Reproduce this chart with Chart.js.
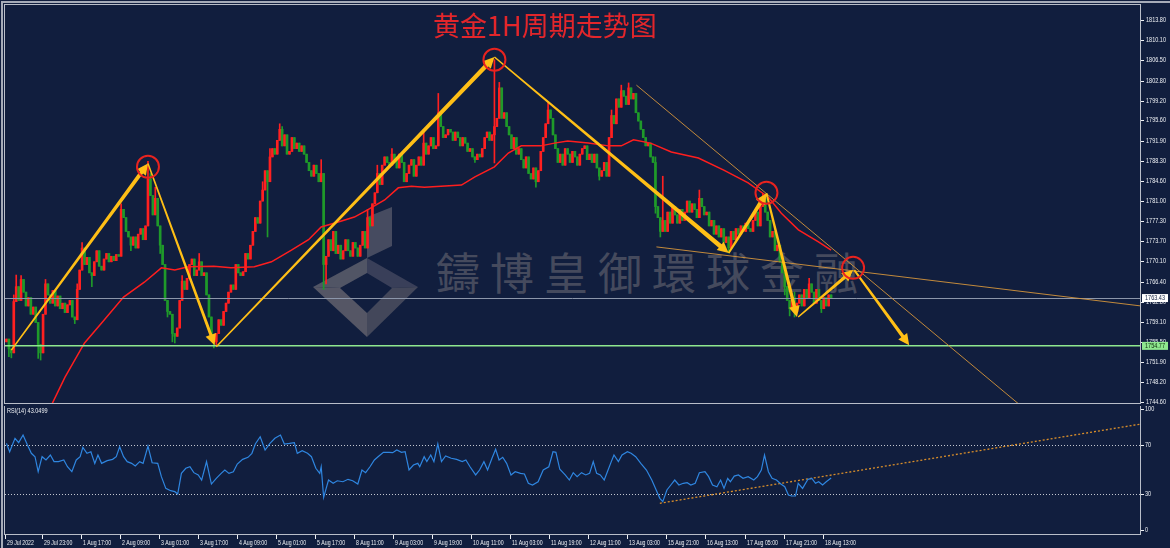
<!DOCTYPE html>
<html>
<head>
<meta charset="utf-8">
<title>黄金1H周期走势图</title>
<script src="https://cdn.jsdelivr.net/npm/chart.js@4.4.1/dist/chart.umd.min.js"></script>
<style>
    html, body { margin: 0; padding: 0; background: #111e3e; }
    #wrap { position: relative; width: 1170px; height: 548px; overflow: hidden; background: #111e3e; }
    #frame { position: absolute; left: 1px; top: 1px; width: 1169px; height: 547px; box-sizing: border-box;
             border-top: 2px solid #a6abb8; border-left: 2px solid #a6abb8; }
    #title { position: absolute; left: 433px; top: 11px; font: 27px "Noto Sans CJK SC"; line-height: 27px;
             color: #e3262b; white-space: nowrap; }
    #mark { position: absolute; left: 436px; top: 249px; font: 44px "Noto Sans CJK TC"; line-height: 44px;
            letter-spacing: 10px; color: #454a5d; white-space: nowrap; }
    #logo { position: absolute; left: 0; top: 0; opacity: 0.8; }
    canvas { position: absolute; left: 0; }
    #priceChart { top: 0; }
    #rsiChart { top: 406px; }
</style>
</head>
<body>
<div id="wrap">
    <svg id="logo" width="1170" height="548">
        <polygon points="367,217 392,207 392,246 367,258" fill="#545769"/>
        <polygon points="313,287 367,258 367,273 340,288" fill="#62636f"/>
        <polygon points="367,258 418,287 392,288 367,273" fill="#444860"/>
        <polygon points="418,287 367,337 367,313 392,288" fill="#505262"/>
        <polygon points="367,337 313,287 340,288 367,313" fill="#66656f"/>
    </svg>
    <div id="mark">鑄博皇御環球金融</div>
    <canvas id="priceChart" width="1170" height="406"></canvas>
    <canvas id="rsiChart" width="1170" height="142"></canvas>
    <div id="title">黄金1H周期走势图</div>
    <div id="frame"></div>
</div>

<script>
    // XAUUSD H1, bar 0 = 29 Jul 2022 07:00, one candle per hour
    const firstOpen = 1755.5;
    const closes = [
        1756.0, 1754.2, 1753.5, 1762.8, 1765.5, 1763.0, 1766.8, 1764.5, 1762.0, 1763.5,
        1760.5, 1761.8, 1759.0, 1755.0, 1753.5, 1760.5, 1766.0, 1764.0, 1762.5, 1764.8,
        1762.0, 1763.8, 1761.5, 1762.5, 1760.8, 1762.2, 1763.0, 1760.0, 1759.5, 1765.0,
        1768.5, 1772.5, 1769.5, 1770.8, 1768.0, 1767.5, 1770.0, 1772.0, 1769.2, 1768.5,
        1770.5, 1771.5, 1770.0, 1771.0, 1770.2, 1771.3, 1771.0, 1779.5, 1778.0, 1775.5,
        1774.5, 1773.0, 1774.5, 1772.5, 1775.0, 1776.0, 1774.0, 1776.5, 1785.0, 1782.0,
        1778.5, 1781.5, 1776.5, 1773.0, 1769.5, 1763.0, 1761.0, 1760.5, 1757.0, 1756.5,
        1758.0, 1763.0, 1766.5, 1765.0, 1767.0, 1769.5, 1770.5, 1767.5, 1768.5, 1770.0,
        1767.5, 1768.0, 1764.0, 1760.0, 1756.5, 1755.5, 1757.0, 1759.5, 1758.5, 1761.0,
        1762.5, 1764.5, 1765.8, 1765.0, 1769.5, 1768.0, 1767.5, 1768.2, 1771.5, 1770.5,
        1773.0, 1775.5, 1778.0, 1777.0, 1781.0, 1783.0, 1786.5, 1784.5, 1789.0, 1790.5,
        1789.5, 1792.0, 1794.0, 1791.0, 1793.0, 1789.5, 1790.0, 1792.5, 1790.5, 1791.5,
        1790.0, 1791.0, 1789.5, 1788.0, 1786.5, 1785.5, 1787.5, 1786.0, 1784.5, 1786.0,
        1769.5, 1771.0, 1774.0, 1772.0, 1775.5, 1771.5, 1773.0, 1770.5, 1772.0, 1774.0,
        1772.0, 1771.0, 1773.5, 1772.5, 1771.0, 1773.0, 1775.5, 1772.5, 1778.0, 1776.5,
        1780.5, 1782.5, 1786.0, 1784.0, 1787.5, 1789.0, 1788.0, 1787.5, 1789.5, 1788.5,
        1787.0, 1789.5, 1788.0, 1784.5, 1786.0, 1787.5, 1788.5, 1785.5, 1787.5, 1789.0,
        1787.5, 1791.5, 1789.5, 1791.0, 1792.5, 1790.5, 1791.0, 1797.0, 1794.5, 1792.5,
        1793.0, 1794.0, 1793.5, 1792.0, 1793.5, 1792.5, 1791.0, 1792.5, 1791.5, 1790.0,
        1790.5, 1789.0, 1788.5, 1789.5, 1789.0, 1790.5, 1792.5, 1793.5, 1792.0, 1793.0,
        1794.5, 1796.0, 1801.5, 1796.0, 1797.0, 1794.5, 1793.0, 1790.5, 1792.5, 1789.5,
        1790.5, 1788.5, 1787.0, 1789.0, 1786.0, 1785.0, 1787.0, 1784.5, 1786.5, 1790.0,
        1792.5, 1795.0, 1797.5, 1796.0, 1793.0, 1790.5, 1788.0, 1789.5, 1787.5, 1790.5,
        1789.5, 1788.0, 1790.0, 1789.0, 1787.5, 1789.5, 1790.5, 1791.0, 1788.5, 1789.5,
        1788.0, 1789.5, 1787.0, 1785.5, 1786.5, 1788.0, 1785.5, 1792.5, 1796.5, 1795.0,
        1799.5, 1798.0, 1801.0, 1800.0, 1798.5, 1801.5, 1799.5, 1800.5, 1797.0, 1795.5,
        1794.0, 1792.5, 1791.0, 1791.5, 1789.0, 1788.0, 1780.0, 1778.0, 1775.5, 1777.5,
        1775.5, 1779.0, 1777.0, 1780.0, 1778.5, 1777.0, 1779.5, 1777.5, 1779.0, 1781.0,
        1779.0, 1780.5, 1779.5, 1778.0, 1781.5, 1780.0, 1778.5, 1779.0, 1776.5, 1777.5,
        1775.0, 1776.5, 1774.5, 1776.0, 1773.5, 1774.5, 1772.5, 1775.5, 1774.0, 1776.0,
        1775.0, 1776.5, 1775.5, 1777.0, 1776.0, 1775.5, 1777.5, 1779.0, 1776.5, 1780.0,
        1781.5, 1779.0, 1777.5, 1774.5, 1775.5, 1772.0, 1773.0, 1770.0, 1768.0, 1765.5,
        1763.0, 1761.5, 1763.5, 1761.0, 1762.5, 1764.0, 1762.0, 1765.0, 1763.5, 1766.0,
        1764.5, 1762.5, 1765.0, 1763.0, 1761.5, 1763.5, 1762.0, 1764.0, 1763.43
    ];
    // visible wick ends (bar index -> price)
    const wickHigh = {
        3: 1764, 4: 1767.6, 6: 1767.5, 16: 1766.8, 29: 1766, 31: 1773.5, 47: 1780.5, 58: 1788.2,
        59: 1786, 61: 1783.5, 72: 1767.5, 79: 1771.5, 105: 1784.5, 108: 1790.5, 112: 1795,
        113: 1794.5, 129: 1788.5, 148: 1779.5, 152: 1787.5, 158: 1790.5, 171: 1794, 177: 1800.5,
        200: 1806.6, 202: 1802.5, 222: 1798.8, 248: 1797.5, 252: 1802, 255: 1802.4, 266: 1789,
        269: 1785.5, 284: 1783, 310: 1782.4, 311: 1782, 323: 1764.5, 329: 1767
    };
    const wickLow = {
        1: 1752.8, 2: 1752.6, 13: 1752.5, 14: 1752.2, 28: 1758.8, 35: 1765.5, 51: 1772, 63: 1771.5,
        66: 1760, 68: 1755.5, 69: 1755.3, 85: 1754.4, 86: 1755, 107: 1774.5, 130: 1765, 131: 1766,
        192: 1788, 200: 1787.9, 217: 1783.5, 243: 1784.8, 266: 1778.8, 268: 1774.5, 296: 1771.6,
        319: 1764, 321: 1760.2, 323: 1760, 334: 1760.8
    };

    // red moving average
    const maIdx = [14, 24, 32, 39, 48, 56.5, 63.5, 69, 74.5, 85, 92, 101.6, 108.6, 116.8, 123.8, 129, 136,
        142.6, 148, 155, 160.6, 166, 171.3, 186.5, 192, 200, 205.7, 211, 219, 224.6, 230, 238.5, 246.7,
        252, 257, 264, 272.5, 283.6, 294, 304, 312.3, 317.6, 324.6, 332.8, 338];
    const maVal = [1740.0, 1749.1, 1755.3, 1758.9, 1763.6, 1766.3, 1768.9, 1768.5, 1769.1, 1769.2, 1768.9,
        1769.1, 1770.0, 1772.1, 1774.0, 1776.3, 1777.2, 1778.1, 1779.4, 1781.2, 1783.4, 1783.7, 1783.5,
        1783.9, 1785.4, 1787.2, 1789.7, 1791.0, 1791.0, 1791.5, 1791.9, 1791.5, 1791.0, 1791.0, 1792.1,
        1791.5, 1789.9, 1788.8, 1786.6, 1784.3, 1781.7, 1778.8, 1775.8, 1773.6, 1772.1];

    // RSI(14)
    const rsiIdx = [0, 1.3, 3.5, 5, 6.8, 8.6, 10.2, 11.7, 13, 14.6, 16.2, 18, 19.5, 21.3, 23.5, 25, 26.8,
        28.6, 30.2, 31.3, 33, 34.6, 36.2, 37.5, 39, 41.3, 43.5, 45, 46.4, 48, 49.5, 51.3, 52.8, 54.6, 56,
        58, 59.7, 62, 63.5, 65.3, 67.3, 69, 70.2, 71.7, 73.5, 75.2, 76.8, 78.6, 80, 82, 84, 86, 88, 89.5,
        91.2, 93, 94.6, 96.8, 99, 100.6, 102, 104, 106, 108, 110, 112.3, 113.9, 116, 118, 119.2, 121.2,
        123.4, 125, 126.8, 128.4, 129, 130, 132, 133.9, 135.6, 137.9, 140, 141.9, 144, 145.7, 147.2, 149,
        150.8, 152.3, 154.5, 156.8, 158.3, 160, 161.9, 163.4, 165, 166.8, 168.6, 169.4, 171.2, 172.3,
        173.9, 175.2, 176.8, 178.3, 180, 182.3, 184.5, 186.8, 188.3, 190, 192.3, 193.9, 195.7, 197.2,
        199, 200.5, 201.9, 203.4, 205, 206.8, 208.5, 210.7, 212.3, 213.9, 215.6, 217.9, 220, 222.3, 224,
        225.2, 226.8, 229, 230.7, 232.3, 233.9, 235.7, 237.4, 239, 240.5, 241.9, 243.4, 245, 246.3, 247.9,
        249, 250.8, 252.3, 254.5, 256, 257.9, 260, 262.3, 264.5, 266.3, 267.8, 269, 270.7, 272.3, 273.9,
        275.6, 277.4, 279, 280.5, 282.3, 284, 286.3, 287.8, 289.4, 291.2, 292.7, 294.1, 295.6, 296.7,
        298.3, 300, 301.9, 304, 306.3, 307.8, 309.4, 310.7, 312.3, 313.8, 315.6, 317.4, 319, 320.5,
        321.8, 323.4, 324.5, 326.3, 328.5, 330.1, 331.6, 332.9, 334.5, 336, 338];
    const rsiVal = [71.6, 64.7, 75.8, 72.2, 78.5, 70.2, 63.4, 60.6, 48.2, 60.6, 57.9, 62, 56.5, 56.5, 57.9,
        52.3, 48.2, 57.9, 60.6, 68.3, 63.4, 64.7, 55.1, 62, 55.1, 57.3, 58.4, 60.6, 68.8, 60.6, 56.5, 55.1,
        52.9, 56.5, 55.1, 69.4, 55.6, 55.1, 44.1, 34.4, 32.5, 31.7, 29.8, 46.8, 51, 52.3, 47.4, 45.5, 41.3,
        56.5, 38, 42.7, 46.8, 49.6, 46.8, 48.2, 54.5, 58.4, 60.1, 63.4, 71.1, 77.1, 66.1, 71.6, 75.8, 78.5,
        71.1, 71.6, 72.2, 63.4, 65.5, 63.4, 60.6, 51, 46.8, 52.3, 27, 41.3, 38.6, 40.7, 39.9, 41.9, 40.7,
        38, 49.6, 47.4, 52.3, 57.9, 60.6, 64.2, 64.2, 63.9, 66.1, 64.2, 64.7, 49.6, 53.7, 55.1, 52.3, 60.6,
        56.5, 62, 56.5, 71.1, 56.5, 61.2, 59.3, 58.4, 56.5, 57.9, 52.3, 45.5, 49.6, 56.5, 49.6, 59.3, 66.7,
        57.9, 60.1, 55.1, 45.5, 48.2, 46.8, 46.3, 38.6, 37.2, 39.9, 49.6, 52.3, 64.7, 64.2, 50.2, 45.5,
        41.3, 47.4, 44.1, 47.4, 45.5, 46.8, 56.5, 46.8, 45.5, 41.3, 48.2, 56.5, 62, 56.5, 62, 64.7, 63.4,
        60.6, 55.1, 49.6, 41.3, 33.1, 26.2, 23.4, 33.1, 37.2, 41.3, 37.2, 38.6, 39.1, 37.2, 38.6, 47.4,
        48.2, 44.1, 37.2, 35.8, 41.3, 34.4, 42.7, 39.9, 44.6, 45.5, 42.7, 44.1, 41.3, 44.1, 49.6, 62,
        48.2, 42.7, 41.3, 38, 35.8, 28.9, 28.1, 28.1, 38.6, 34.4, 41.9, 42.7, 38.6, 39.9, 37.2, 39.9, 43.05];

    const timeLabels = ["29 Jul 2022", "29 Jul 23:00", "1 Aug 17:00", "2 Aug 09:00", "3 Aug 01:00",
        "3 Aug 17:00", "4 Aug 09:00", "5 Aug 01:00", "5 Aug 17:00", "8 Aug 11:00", "9 Aug 03:00",
        "9 Aug 19:00", "10 Aug 11:00", "11 Aug 03:00", "11 Aug 19:00", "12 Aug 11:00", "13 Aug 03:00",
        "15 Aug 21:00", "16 Aug 13:00", "17 Aug 05:00", "17 Aug 21:00", "18 Aug 13:00"];
    const labelEvery = 16;
    const priceTicks = [1813.80, 1810.10, 1806.50, 1802.80, 1799.20, 1795.60, 1791.90, 1788.30, 1784.60,
        1781.00, 1777.30, 1773.70, 1770.10, 1766.40, 1762.80, 1759.10, 1755.50, 1751.90, 1748.20, 1744.60];
    const rsiTicks = [100, 70, 30, 0];
    const rsiLevels = [70, 30];
    const bidPrice = 1763.43;
    const supportPrice = 1754.77;

    // drawn analysis: arrows, circles, trend lines (bar index, price)
    const arrowFrom = [[2, 1754.0], [58, 1787.8], [86, 1754.6], [200, 1807.1], [296, 1771.6], [311.5, 1782.4], [324.5, 1760.0], [347.5, 1768.5]];
    const arrowTo = [[58, 1787.8], [85.3, 1754.9], [200, 1807.1], [296, 1771.6], [311.5, 1782.4], [324, 1760.0], [347, 1768.5], [370, 1754.9]];
    const circleAt = [[58, 1787.2], [200, 1806.6], [311.5, 1782.5], [347, 1768.9]];
    const trendFrom = [[258.2, 1802.0], [266.4, 1772.7]];
    const trendTo = [[415, 1744.2], [465, 1762.0]];
    const rsiTrendFrom = [267.8, 22.1];
    const rsiTrendTo = [465, 87.6];

    const upColor = '#ff2020';
    const downColor = '#1f9a2a';
    const axisFont = '6.5px "Liberation Sans"';
    const xMin = -0.6, xMax = 464.6;
    // terminal puts the time tick at the bar's left edge
    const labelShift = -1.5;

    let bodies = [];
    let wicks = [];
    let candleColors = [];
    let open = firstOpen;
    for (let i = 0; i < closes.length; i++) {
        let c = closes[i];
        let hi = Math.max(open, c, wickHigh[i] !== undefined ? wickHigh[i] : -Infinity);
        let lo = Math.min(open, c, wickLow[i] !== undefined ? wickLow[i] : Infinity);
        bodies.push({x: i, y: [open, c]});
        wicks.push({x: i, y: [lo, hi]});
        candleColors.push(c >= open ? upColor : downColor);
        open = c;
    }

    // narrow axis text, like the terminal's small font
    function axisText(ctx, text, x, y, squeeze) {
        ctx.save();
        ctx.translate(x, y);
        ctx.scale(squeeze, 1);
        ctx.fillText(text, 0, 0);
        ctx.restore();
    }

    function drawArrow(ctx, x0, y0, x1, y1, w0, w1) {
        let dx = x1 - x0, dy = y1 - y0, len = Math.hypot(dx, dy);
        let ux = dx / len, uy = dy / len, nx = -uy, ny = ux;
        let head = 11, hw = 5.5;
        let bx = x1 - ux * head, by = y1 - uy * head;
        ctx.beginPath();
        ctx.moveTo(x0 + nx * w0 / 2, y0 + ny * w0 / 2);
        ctx.lineTo(bx + nx * w1 / 2, by + ny * w1 / 2);
        ctx.lineTo(bx + nx * hw, by + ny * hw);
        ctx.lineTo(x1, y1);
        ctx.lineTo(bx - nx * hw, by - ny * hw);
        ctx.lineTo(bx - nx * w1 / 2, by - ny * w1 / 2);
        ctx.lineTo(x0 - nx * w0 / 2, y0 - ny * w0 / 2);
        ctx.closePath();
        ctx.fill();
    }

    function frame(ctx, a) {
        ctx.strokeStyle = '#b9bec9';
        ctx.lineWidth = 1;
        ctx.strokeRect(a.left - 0.5, a.top - 0.5, a.right - a.left + 1, a.bottom - a.top + 1);
    }

    const priceDecor = {
        id: 'priceDecor',
        afterDatasetsDraw(chart) {
            let ctx = chart.ctx, a = chart.chartArea;
            let xs = chart.scales.x, ys = chart.scales.y;
            let px = p => xs.getPixelForValue(p[0]);
            let py = p => ys.getPixelForValue(p[1]);
            ctx.save();
            ctx.beginPath();
            ctx.rect(a.left, a.top, a.right - a.left, a.bottom - a.top);
            ctx.clip();

            // bid and support lines
            ctx.strokeStyle = '#8c96aa';
            ctx.lineWidth = 1;
            let yb = Math.round(ys.getPixelForValue(bidPrice)) + 0.5;
            ctx.beginPath(); ctx.moveTo(a.left, yb); ctx.lineTo(a.right, yb); ctx.stroke();
            ctx.strokeStyle = '#8fe88f';
            ctx.lineWidth = 1.5;
            let yg = ys.getPixelForValue(supportPrice);
            ctx.beginPath(); ctx.moveTo(a.left, yg); ctx.lineTo(a.right, yg); ctx.stroke();

            // thin trend lines
            ctx.strokeStyle = 'rgba(214,150,60,0.9)';
            ctx.lineWidth = 1;
            for (let k = 0; k < trendFrom.length; k++) {
                ctx.beginPath();
                ctx.moveTo(px(trendFrom[k]), py(trendFrom[k]));
                ctx.lineTo(px(trendTo[k]), py(trendTo[k]));
                ctx.stroke();
            }

            // yellow swing arrows
            const w0 = [1.5, 1.5, 1.5, 1.5, 2, 2, 1.5, 2];
            const w1 = [4, 3, 4.5, 4.5, 4, 3.5, 3.5, 3.5];
            ctx.fillStyle = '#ffbf16';
            for (let k = 0; k < arrowFrom.length; k++) {
                drawArrow(ctx, px(arrowFrom[k]), py(arrowFrom[k]), px(arrowTo[k]), py(arrowTo[k]), w0[k], w1[k]);
            }

            // red circles on turning points
            ctx.strokeStyle = '#e8231f';
            ctx.lineWidth = 2;
            circleAt.forEach(p => {
                ctx.beginPath();
                ctx.arc(px(p), py(p), 11, 0, Math.PI * 2);
                ctx.stroke();
            });
            ctx.restore();
        },
        afterDraw(chart) {
            let ctx = chart.ctx, a = chart.chartArea, ys = chart.scales.y;
            ctx.save();
            frame(ctx, a);
            ctx.font = axisFont;
            ctx.textBaseline = 'middle';
            ctx.textAlign = 'left';
            ctx.fillStyle = '#eef0f4';
            priceTicks.forEach(v => {
                let y = Math.round(ys.getPixelForValue(v));
                ctx.fillRect(a.right + 1, y, 3, 1);
                axisText(ctx, v.toFixed(2), a.right + 6, y + 0.5, 0.85);
            });
            // price boxes
            let boxes = [[bidPrice, '#ffffff', '#111e3e'], [supportPrice, '#8fe88f', '#0b2a0b']];
            boxes.forEach(b => {
                let y = ys.getPixelForValue(b[0]);
                ctx.fillStyle = b[1];
                ctx.fillRect(a.right + 2, y - 4, 26, 8);
                ctx.fillStyle = b[2];
                axisText(ctx, b[0].toFixed(2), a.right + 5, y + 0.5, 0.85);
            });
            ctx.restore();
        }
    };

    const rsiDecor = {
        id: 'rsiDecor',
        beforeDatasetsDraw(chart) {
            let ctx = chart.ctx, a = chart.chartArea, xs = chart.scales.x, ys = chart.scales.y;
            ctx.save();
            ctx.beginPath();
            ctx.rect(a.left, a.top, a.right - a.left, a.bottom - a.top);
            ctx.clip();
            ctx.strokeStyle = '#c3c7d0';
            ctx.lineWidth = 1;
            ctx.setLineDash([1, 2]);
            rsiLevels.forEach(v => {
                let y = Math.round(ys.getPixelForValue(v)) + 0.5;
                ctx.beginPath(); ctx.moveTo(a.left, y); ctx.lineTo(a.right, y); ctx.stroke();
            });
            ctx.strokeStyle = '#d98e2a';
            ctx.lineWidth = 1.3;
            ctx.setLineDash([2, 2]);
            ctx.beginPath();
            ctx.moveTo(xs.getPixelForValue(rsiTrendFrom[0]), ys.getPixelForValue(rsiTrendFrom[1]));
            ctx.lineTo(xs.getPixelForValue(rsiTrendTo[0]), ys.getPixelForValue(rsiTrendTo[1]));
            ctx.stroke();
            ctx.restore();
        },
        afterDraw(chart) {
            let ctx = chart.ctx, a = chart.chartArea, xs = chart.scales.x, ys = chart.scales.y;
            ctx.save();
            frame(ctx, a);
            ctx.font = axisFont;
            ctx.fillStyle = '#eef0f4';
            ctx.textAlign = 'left';
            ctx.textBaseline = 'top';
            axisText(ctx, 'RSI(14) 43.0499', a.left + 2, a.top + 2, 0.85);

            ctx.textBaseline = 'middle';
            rsiTicks.forEach(v => {
                let y = Math.round(ys.getPixelForValue(v));
                ctx.fillRect(a.right + 1, y, 3, 1);
                axisText(ctx, String(v), a.right + 5, y + 0.5, 0.85);
            });

            ctx.textBaseline = 'alphabetic';
            timeLabels.forEach((t, k) => {
                let x = Math.max(a.left, Math.round(xs.getPixelForValue(k * labelEvery + labelShift)));
                ctx.fillRect(x, a.bottom + 1, 1, 4);
                axisText(ctx, t, x + 2, a.bottom + 11, 0.8);
            });
            ctx.restore();
        }
    };

    new Chart(document.getElementById('priceChart'), {
        type: 'bar',
        data: {
            datasets: [
                {
                    type: 'line',
                    data: maIdx.map((x, k) => ({x: x, y: maVal[k]})),
                    borderColor: '#ff1e1e',
                    borderWidth: 1.5,
                    pointRadius: 0,
                    tension: 0,
                    order: 0
                },
                {
                    data: bodies,
                    backgroundColor: candleColors,
                    barThickness: 2,
                    minBarLength: 1,
                    grouped: false,
                    order: 1
                },
                {
                    data: wicks,
                    backgroundColor: candleColors,
                    barThickness: 1,
                    grouped: false,
                    order: 2
                }
            ]
        },
        options: {
            responsive: false,
            animation: false,
            layout: {padding: {left: 5, top: 5, right: 30, bottom: 3}},
            plugins: {legend: {display: false}, tooltip: {enabled: false}},
            scales: {
                x: {type: 'linear', min: xMin, max: xMax, offset: false, display: false},
                y: {type: 'linear', min: 1744.42, max: 1816.52, display: false}
            }
        },
        plugins: [priceDecor]
    });

    new Chart(document.getElementById('rsiChart'), {
        type: 'line',
        data: {
            datasets: [{
                data: rsiIdx.map((x, k) => ({x: x, y: rsiVal[k]})),
                borderColor: '#2f86e0',
                borderWidth: 1.2,
                pointRadius: 0,
                tension: 0
            }]
        },
        options: {
            responsive: false,
            animation: false,
            layout: {padding: {left: 5, top: 0, right: 30, bottom: 14}},
            plugins: {legend: {display: false}, tooltip: {enabled: false}},
            scales: {
                x: {type: 'linear', min: xMin, max: xMax, offset: false, display: false},
                y: {type: 'linear', min: -3.3, max: 102.5, display: false}
            }
        },
        plugins: [rsiDecor]
    });
</script>
</body>
</html>
